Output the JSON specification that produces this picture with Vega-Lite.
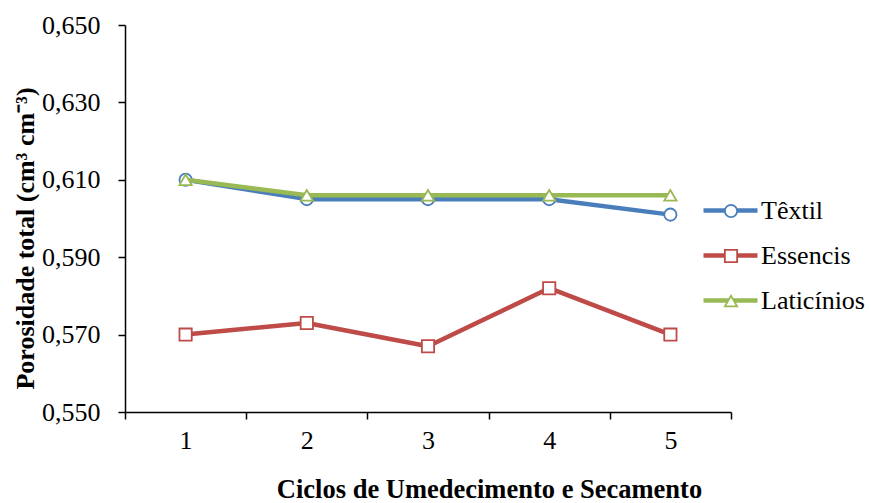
{
  "$schema": "https://vega.github.io/schema/vega-lite/v6.json",
  "width": 606,
  "height": 387,
  "autosize": "none",
  "padding": {"left": 125, "top": 25, "right": 140, "bottom": 91},
  "background": "white",
  "config": {
    "view": {"stroke": null},
    "font": "Liberation Serif",
    "axis": {
      "grid": false,
      "domainColor": "black",
      "domainWidth": 1.5,
      "tickColor": "black",
      "tickWidth": 1.5,
      "labelColor": "black",
      "titleColor": "black",
      "labelFont": "Liberation Serif",
      "titleFont": "Liberation Serif"
    },
    "legend": {"labelFont": "Liberation Serif", "labelColor": "black"}
  },
  "data": {
    "values": [
      {"ciclo": 1, "serie": "Têxtil", "valor": 0.610},
      {"ciclo": 2, "serie": "Têxtil", "valor": 0.605},
      {"ciclo": 3, "serie": "Têxtil", "valor": 0.605},
      {"ciclo": 4, "serie": "Têxtil", "valor": 0.605},
      {"ciclo": 5, "serie": "Têxtil", "valor": 0.601},
      {"ciclo": 1, "serie": "Essencis", "valor": 0.570},
      {"ciclo": 2, "serie": "Essencis", "valor": 0.573},
      {"ciclo": 3, "serie": "Essencis", "valor": 0.567},
      {"ciclo": 4, "serie": "Essencis", "valor": 0.582},
      {"ciclo": 5, "serie": "Essencis", "valor": 0.570},
      {"ciclo": 1, "serie": "Laticínios", "valor": 0.610},
      {"ciclo": 2, "serie": "Laticínios", "valor": 0.606},
      {"ciclo": 3, "serie": "Laticínios", "valor": 0.606},
      {"ciclo": 4, "serie": "Laticínios", "valor": 0.606},
      {"ciclo": 5, "serie": "Laticínios", "valor": 0.606}
    ]
  },
  "encoding": {
    "x": {
      "field": "ciclo",
      "type": "quantitative",
      "scale": {"domain": [0.5, 5.5], "nice": false, "zero": false},
      "axis": {
        "values": [0.5, 1, 1.5, 2, 2.5, 3, 3.5, 4, 4.5, 5, 5.5],
        "labelExpr": "datum.value % 1 == 0 ? format(datum.value, 'd') : ''",
        "labelOverlap": false,
        "labelFlush": false,
        "labelFontSize": 26,
        "labelPadding": 8,
        "tickSize": 7,
        "tickOpacity": {"condition": {"test": "datum.value % 1 == 0", "value": 0}, "value": 1},
        "title": "Ciclos de Umedecimento e Secamento",
        "titleFontSize": 26.5,
        "titleFontWeight": "bold",
        "titleX": 364,
        "titleY": 77,
        "titleAlign": "center",
        "titleBaseline": "middle"
      }
    },
    "y": {
      "field": "valor",
      "type": "quantitative",
      "scale": {"domain": [0.55, 0.65], "nice": false, "zero": false},
      "axis": {
        "values": [0.55, 0.57, 0.59, 0.61, 0.63, 0.65],
        "labelExpr": "replace(format(datum.value, '.3f'), '.', ',')",
        "labelFlush": false,
        "labelOverlap": false,
        "labelFontSize": 26,
        "labelPadding": 18,
        "tickSize": 7,
        "title": "Porosidade total (cm³ cm⁻³)",
        "titleFontSize": 26,
        "titleFontWeight": "bold",
        "titleAngle": -90,
        "titleX": -100,
        "titleY": 213,
        "titleAlign": "center",
        "titleBaseline": "middle"
      }
    }
  },
  "layer": [
    {
      "transform": [{"filter": "datum.serie === 'Têxtil'"}],
      "mark": {"type": "line", "strokeWidth": 4.5, "strokeCap": "round", "strokeJoin": "round"},
      "encoding": {
        "color": {
          "field": "serie",
          "type": "nominal",
          "scale": {"domain": ["Têxtil", "Essencis", "Laticínios"], "range": ["#4A7EBB", "#BE4B48", "#98B954"]},
          "legend": {"orient": "none", "legendX": 576, "legendY": 156, "title": null, "padding": 0, "symbolType": "stroke", "symbolSize": 2916, "symbolStrokeWidth": 4.5, "labelFont": "Liberation Serif", "labelFontSize": 26, "labelOffset": 1, "rowPadding": 2}
        }
      }
    },
    {
      "transform": [{"filter": "datum.serie === 'Têxtil'"}],
      "mark": {"type": "point", "filled": true, "fill": "white", "strokeWidth": 1.8, "size": 150, "opacity": 1},
      "encoding": {
        "stroke": {
          "field": "serie", "type": "nominal",
          "scale": {"range": ["#BE4B48", "#98B954", "#4A7EBB"]},
          "legend": {"orient": "none", "legendX": 593, "legendY": 173, "title": null, "padding": 0, "values": ["Têxtil", "Essencis", "Laticínios"], "symbolSize": 150, "symbolStrokeWidth": 1.8, "symbolFillColor": "white", "labelFontSize": 26, "labelExpr": "''", "rowPadding": 19}
        },
        "shape": {
          "field": "serie", "type": "nominal",
          "scale": {"range": ["square", "triangle-up", "circle"]},
          "legend": {"orient": "none", "legendX": 593, "legendY": 173, "title": null, "padding": 0, "values": ["Têxtil", "Essencis", "Laticínios"], "symbolSize": 150, "symbolStrokeWidth": 1.8, "symbolFillColor": "white", "labelFontSize": 26, "labelExpr": "''", "rowPadding": 19}
        }
      }
    },
    {
      "transform": [{"filter": "datum.serie === 'Essencis'"}],
      "mark": {"type": "line", "strokeWidth": 4.5, "strokeCap": "round", "strokeJoin": "round"},
      "encoding": {"color": {"field": "serie", "type": "nominal"}}
    },
    {
      "transform": [{"filter": "datum.serie === 'Essencis'"}],
      "mark": {"type": "point", "filled": true, "fill": "white", "strokeWidth": 1.8, "size": 150, "opacity": 1},
      "encoding": {
        "stroke": {"field": "serie", "type": "nominal"},
        "shape": {"field": "serie", "type": "nominal"}
      }
    },
    {
      "transform": [{"filter": "datum.serie === 'Laticínios'"}],
      "mark": {"type": "line", "strokeWidth": 4.5, "strokeCap": "round", "strokeJoin": "round"},
      "encoding": {"color": {"field": "serie", "type": "nominal"}}
    },
    {
      "transform": [{"filter": "datum.serie === 'Laticínios'"}],
      "mark": {"type": "point", "filled": true, "fill": "white", "strokeWidth": 1.8, "size": 150, "opacity": 1},
      "encoding": {
        "stroke": {"field": "serie", "type": "nominal"},
        "shape": {"field": "serie", "type": "nominal"}
      }
    }
  ]
}
